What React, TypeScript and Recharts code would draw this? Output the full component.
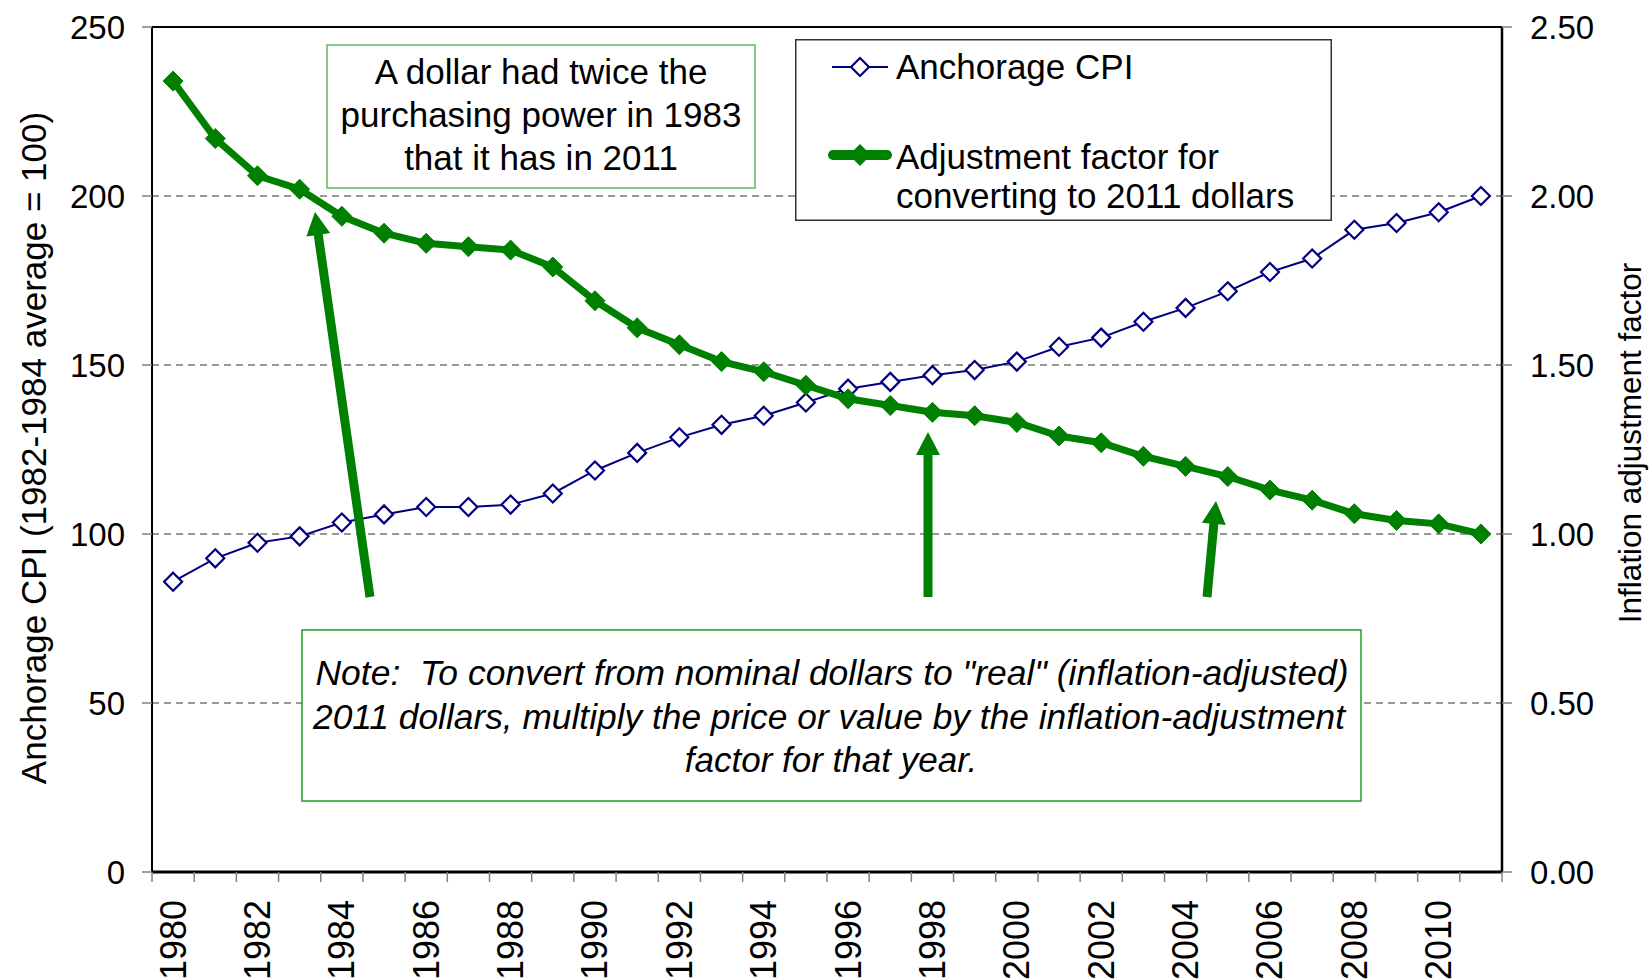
import React from "react";
import {
  LineChart, Line, XAxis, YAxis, CartesianGrid, ReferenceLine, Legend,
} from "recharts";

const FONT = "'Liberation Sans', Arial, Helvetica, sans-serif";
const NAVY = "#000080";
const GREEN = "#008000";

const years = [
  1980, 1981, 1982, 1983, 1984, 1985, 1986, 1987, 1988, 1989,
  1990, 1991, 1992, 1993, 1994, 1995, 1996, 1997, 1998, 1999,
  2000, 2001, 2002, 2003, 2004, 2005, 2006, 2007, 2008, 2009,
  2010, 2011,
];

// Anchorage CPI (1982-1984 average = 100)
const cpi = [
  85.9, 92.8, 97.4, 99.3, 103.4, 105.8, 108.0, 108.0, 108.7, 112.0,
  118.8, 124.0, 128.6, 132.3, 135.0, 138.9, 143.0, 145.0, 147.0, 148.5,
  151.0, 155.4, 158.1, 162.8, 166.9, 171.8, 177.5, 181.5, 190.0, 192.0,
  195.2, 200.0,
];

// adjustment factor for converting to 2011 dollars
const adjFactor = [
  2.34, 2.17, 2.06, 2.02, 1.94, 1.89, 1.86, 1.85, 1.84, 1.79,
  1.69, 1.61, 1.56, 1.51, 1.48, 1.44, 1.40, 1.38, 1.36, 1.35,
  1.33, 1.29, 1.27, 1.23, 1.20, 1.17, 1.13, 1.10, 1.06, 1.04,
  1.03, 1.00,
];

const cpiTicks = [0, 50, 100, 150, 200, 250];
const factorTicks = [0, 0.5, 1, 1.5, 2, 2.5];
const yearLabels = [
  1980, 1982, 1984, 1986, 1988, 1990, 1992, 1994,
  1996, 1998, 2000, 2002, 2004, 2006, 2008, 2010,
];

const data = years.map((year, i) => ({ year, cpi: cpi[i], adj: adjFactor[i] }));

// tick marks sit between the years, labels on the even years
const yearBounds = [...years.map((y) => y - 0.5), years[years.length - 1] + 0.5];
const xTicks = [...yearBounds, ...yearLabels].sort((a, b) => a - b);

function YearTick(props: { x?: number; y?: number; payload?: { value: number } }) {
  const { x = 0, y = 0, payload } = props;
  if (!payload) return null;
  const v = payload.value;
  if (!Number.isInteger(v)) {
    return <line x1={x} x2={x} y1={y} y2={y + 10} stroke="#808080" strokeWidth={1.5} />;
  }
  const ty = y + 28;
  return (
    <text
      x={x} y={ty} transform={`rotate(-90 ${x} ${ty})`}
      textAnchor="end" dominantBaseline="central"
      fontSize={36} fontFamily={FONT} fill="#000"
    >
      {v}
    </text>
  );
}

function OpenDiamond(props: { cx?: number; cy?: number }) {
  const { cx, cy } = props;
  if (cx == null || cy == null) return null;
  const r = 9;
  return (
    <polygon
      points={`${cx},${cy - r} ${cx + r},${cy} ${cx},${cy + r} ${cx - r},${cy}`}
      fill="#fff" stroke={NAVY} strokeWidth={2.2}
    />
  );
}

function FilledDiamond(props: { cx?: number; cy?: number }) {
  const { cx, cy } = props;
  if (cx == null || cy == null) return null;
  const r = 10;
  return (
    <polygon
      points={`${cx},${cy - r} ${cx + r},${cy} ${cx},${cy + r} ${cx - r},${cy}`}
      fill={GREEN} stroke={GREEN} strokeWidth={1}
    />
  );
}

function LegendBox() {
  return (
    <svg width={537} height={182} style={{ display: "block" }}>
      <rect x={0.75} y={0.75} width={535.5} height={180.5} fill="#fff" stroke="#333" strokeWidth={1.5} />
      <line x1={37} x2={93} y1={28} y2={28} stroke={NAVY} strokeWidth={2} />
      <polygon points="65,19 74,28 65,37 56,28" fill="#fff" stroke={NAVY} strokeWidth={2.2} />
      <text x={101} y={40} fontSize={35} fontFamily={FONT} fill="#000">Anchorage CPI</text>
      <line x1={38} x2={92} y1={116} y2={116} stroke={GREEN} strokeWidth={10} strokeLinecap="round" />
      <polygon points="65,105 76,116 65,127 54,116" fill={GREEN} />
      <text x={101} y={130} fontSize={35} fontFamily={FONT} fill="#000">Adjustment factor for</text>
      <text x={101} y={169} fontSize={35} fontFamily={FONT} fill="#000">converting to 2011 dollars</text>
    </svg>
  );
}

function Arrow({ x1, y1, x2, y2 }: { x1: number; y1: number; x2: number; y2: number }) {
  // shaft from (x1,y1) to the tip (x2,y2)
  const dx = x2 - x1, dy = y2 - y1;
  const len = Math.hypot(dx, dy);
  const ux = dx / len, uy = dy / len;
  const px = -uy, py = ux;
  const head = 23, hw = 12, sw = 4.5;
  const bx = x2 - ux * head, by = y2 - uy * head;
  const pts = [
    [x1 + px * sw, y1 + py * sw],
    [bx + px * sw, by + py * sw],
    [bx + px * hw, by + py * hw],
    [x2, y2],
    [bx - px * hw, by - py * hw],
    [bx - px * sw, by - py * sw],
    [x1 - px * sw, y1 - py * sw],
  ];
  return <polygon points={pts.map((p) => p.join(",")).join(" ")} fill={GREEN} />;
}

export default function App() {
  return (
    <div style={{ position: "absolute", left: 0, top: 0, width: 1652, height: 979, background: "#fff" }}>
      <LineChart
        width={1652} height={979} data={data}
        margin={{ top: 27, right: 0, bottom: 0, left: 0 }}
      >
        <CartesianGrid yAxisId="cpi" vertical={false} stroke="#333" strokeDasharray="7 5" />
        <XAxis
          dataKey="year" type="number" domain={[1979.5, 2011.5]}
          ticks={xTicks} interval={0} height={107}
          tickSize={0} tickMargin={0} tickLine={false}
          tick={<YearTick />}
          axisLine={{ stroke: "#000", strokeWidth: 3 }}
          allowDataOverflow
        />
        <YAxis
          yAxisId="cpi" domain={[0, 250]} ticks={cpiTicks} interval={0} width={152}
          tickSize={10} tickMargin={17}
          tick={{ fontSize: 33, fill: "#000", fontFamily: FONT }}
          tickLine={{ stroke: "#808080", strokeWidth: 1.5 }}
          axisLine={{ stroke: "#000", strokeWidth: 2 }}
          allowDataOverflow
        />
        <YAxis
          yAxisId="adj" orientation="right" domain={[0, 2.5]} ticks={factorTicks} interval={0} width={150}
          tickSize={10} tickMargin={18}
          tickFormatter={(v: number) => v.toFixed(2)}
          tick={{ fontSize: 33, fill: "#000", fontFamily: FONT }}
          tickLine={{ stroke: "#808080", strokeWidth: 1.5 }}
          axisLine={{ stroke: "#000", strokeWidth: 2.5 }}
          allowDataOverflow
        />
        <ReferenceLine yAxisId="cpi" y={250} stroke="#000" strokeWidth={2} />
        <Line
          yAxisId="cpi" dataKey="cpi" type="linear" stroke={NAVY} strokeWidth={2}
          dot={<OpenDiamond />} activeDot={false} isAnimationActive={false}
        />
        <Line
          yAxisId="adj" dataKey="adj" type="linear" stroke={GREEN} strokeWidth={7}
          dot={<FilledDiamond />} activeDot={false} isAnimationActive={false}
        />
        <Legend
          layout="horizontal" verticalAlign="middle" align="center"
          wrapperStyle={{ position: "absolute", left: 795, top: 39, width: 537, height: 182 }}
          content={() => <LegendBox />}
        />
      </LineChart>

      <svg
        width={1652} height={979}
        style={{ position: "absolute", left: 0, top: 0, pointerEvents: "none" }}
        fontFamily={FONT}
      >
        <text
          x={33} y={448} transform="rotate(-90 33 448)" textAnchor="middle" dominantBaseline="central"
          fontSize={35} fill="#000"
        >
          Anchorage CPI (1982-1984 average = 100)
        </text>
        <text
          x={1630} y={443} transform="rotate(-90 1630 443)" textAnchor="middle" dominantBaseline="central"
          fontSize={31.5} fill="#000"
        >
          Inflation adjustment factor
        </text>

        <rect x={327} y={45} width={428} height={143} fill="#fff" stroke="#5cb85c" strokeWidth={1.5} />
        <g fontSize={35} textAnchor="middle" fill="#000">
          <text x={541} y={84}>A dollar had twice the</text>
          <text x={541} y={127}>purchasing power in 1983</text>
          <text x={541} y={170}>that it has in 2011</text>
        </g>

        <rect x={302} y={630} width={1059} height={171} fill="#fff" stroke="#239b23" strokeWidth={1.5} />
        <g fontSize={35} fontStyle="italic" textAnchor="middle" fill="#000">
          <text x={832} y={685} textLength={1033} lengthAdjust="spacingAndGlyphs">
            {"Note:\u00a0 To convert from nominal dollars to \"real\" (inflation-adjusted)"}
          </text>
          <text x={829} y={729} textLength={1032} lengthAdjust="spacingAndGlyphs">
            2011 dollars, multiply the price or value by the inflation-adjustment
          </text>
          <text x={831} y={772}>factor for that year.</text>
        </g>

        <Arrow x1={370} y1={597} x2={315} y2={212} />
        <Arrow x1={928} y1={597} x2={928} y2={432} />
        <Arrow x1={1207} y1={597} x2={1216} y2={501} />
      </svg>
    </div>
  );
}
